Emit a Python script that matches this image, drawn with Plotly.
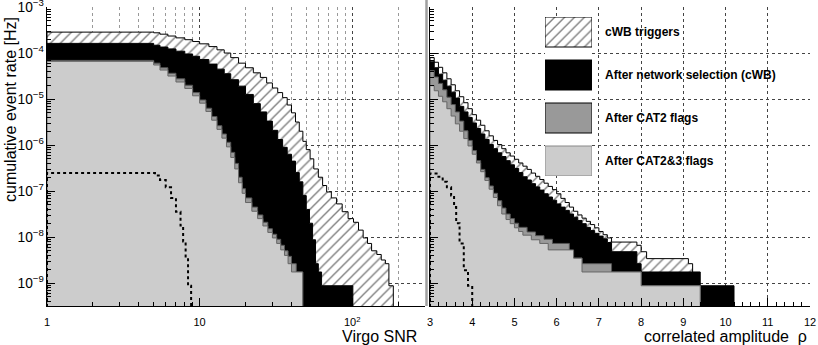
import math

import plotly.graph_objects as go

# ---- data: cumulative event rate, stored as log10(rate [Hz]) per histogram bin ----
# left panel: Virgo SNR (bin edges + one value per bin)
cwb_snr_edges = [1, 5, 5.5, 6.2, 7, 8, 9, 10, 11.5, 13, 14.5, 16, 18, 20, 22.5, 25, 27.5,
                 30, 32.5, 35, 37.5, 40, 42.5, 45, 47.5, 50, 53, 56, 60, 64, 68, 73, 79, 86,
                 94, 102, 110, 118, 126, 134, 145, 155, 165, 174, 186]
cwb_snr_log = [-3.545, -3.56, -3.59, -3.63, -3.67, -3.71, -3.75, -3.80, -3.86, -3.93, -4.00,
               -4.10, -4.22, -4.32, -4.43, -4.53, -4.65, -4.76, -4.86, -4.97, -5.13, -5.30,
               -5.50, -5.70, -5.92, -6.10, -6.30, -6.52, -6.70, -6.88, -7.02, -7.15, -7.28,
               -7.45, -7.60, -7.68, -7.85, -8.02, -8.14, -8.30, -8.38, -8.50, -8.58, -9.06]

net_snr_edges = [1, 5, 5.5, 6.2, 7, 8, 9, 10, 11.5, 13, 14.5, 16, 18, 20, 22.5, 25, 27.5,
                 30, 32.5, 35, 37.5, 40, 42.5, 45, 47.5, 50, 52.5, 55, 57.5, 60, 63, 101]
net_snr_log = [-3.79, -3.83, -3.87, -3.91, -3.96, -4.02, -4.07, -4.14, -4.24, -4.35, -4.45,
               -4.58, -4.72, -4.90, -5.10, -5.28, -5.48, -5.68, -5.88, -6.05, -6.20, -6.35,
               -6.60, -6.80, -7.10, -7.40, -7.70, -8.06, -8.58, -8.76, -9.06]

cat2_snr_edges = [1, 5, 5.5, 6.2, 7, 8, 9, 10, 11, 12, 13, 14, 15, 16, 17, 18, 19, 20, 22,
                  24, 26, 28, 30, 32, 34, 36, 38, 40, 43, 47.4]
cat2_snr_log = [-4.16, -4.22, -4.32, -4.44, -4.56, -4.70, -4.86, -5.02, -5.20, -5.38, -5.58,
                -5.76, -5.94, -6.16, -6.40, -6.70, -6.95, -7.15, -7.35, -7.52, -7.68, -7.82,
                -7.94, -8.05, -8.18, -8.30, -8.42, -8.58, -8.76]

cat23_snr_edges = cat2_snr_edges
cat23_snr_log = [-4.18, -4.26, -4.37, -4.50, -4.63, -4.77, -4.93, -5.09, -5.27, -5.46, -5.66,
                 -5.85, -6.04, -6.27, -6.52, -6.82, -7.05, -7.25, -7.44, -7.60, -7.76, -7.90,
                 -8.02, -8.14, -8.28, -8.40, -8.58, -8.76, -8.76]

dot_snr_edges = [1, 5.1, 5.5, 6.0, 6.5, 7.0, 7.5, 7.8, 8.1, 8.4, 8.8]
dot_snr_log = [-6.61, -6.66, -6.76, -6.92, -7.15, -7.45, -7.75, -8.10, -8.45, -9.06]

# right panel: correlated amplitude rho
cwb_rho_edges = [3.0, 3.1, 3.2, 3.3, 3.4, 3.5, 3.6, 3.7, 3.8, 3.9, 4.0, 4.1, 4.2, 4.3, 4.4,
                 4.5, 4.6, 4.7, 4.8, 4.9, 5.0, 5.1, 5.2, 5.3, 5.4, 5.5, 5.6, 5.7, 5.8, 5.9,
                 6.0, 6.1, 6.2, 6.3, 6.4, 6.5, 6.6, 6.7, 6.8, 6.9, 7.0, 7.1, 7.2, 7.3, 7.9,
                 8.0, 8.13, 9.12, 9.22]
cwb_rho_log = [-4.10, -4.20, -4.31, -4.43, -4.56, -4.69, -4.82, -4.95, -5.08, -5.21,
               -5.34, -5.46, -5.57, -5.69, -5.80, -5.90, -5.99, -6.08, -6.17, -6.24,
               -6.31, -6.39, -6.46, -6.53, -6.61, -6.68, -6.75, -6.83, -6.90, -6.97,
               -7.06, -7.16, -7.25, -7.35, -7.44, -7.52, -7.59, -7.66, -7.73, -7.80,
               -7.88, -7.95, -8.02, -8.11, -8.18, -8.32, -8.47, -8.58]

net_rho_edges = [3.0, 3.1, 3.2, 3.3, 3.4, 3.5, 3.6, 3.7, 3.8, 3.9, 4.0, 4.1, 4.2, 4.3, 4.4,
                 4.5, 4.6, 4.7, 4.8, 4.9, 5.0, 5.1, 5.2, 5.3, 5.4, 5.5, 5.6, 5.7, 5.8, 5.9,
                 6.0, 6.1, 6.2, 6.3, 6.4, 6.5, 6.6, 6.7, 6.8, 6.9, 7.0, 7.1, 7.2, 7.3, 7.9,
                 8.0, 9.4, 10.2]
net_rho_log = [-4.19, -4.32, -4.46, -4.59, -4.72, -4.85, -4.98, -5.16, -5.28, -5.40,
               -5.52, -5.64, -5.76, -5.88, -5.99, -6.08, -6.17, -6.25, -6.34, -6.43,
               -6.51, -6.60, -6.69, -6.76, -6.84, -6.91, -6.98, -7.06, -7.13, -7.20,
               -7.28, -7.35, -7.42, -7.50, -7.57, -7.64, -7.71, -7.79, -7.86, -7.92,
               -7.98, -8.04, -8.12, -8.32, -8.58, -8.76, -9.06]

cat2_rho_edges = [3.0, 3.1, 3.2, 3.3, 3.4, 3.5, 3.6, 3.7, 3.8, 3.9, 4.0, 4.1, 4.2, 4.3, 4.4,
                  4.5, 4.6, 4.7, 4.8, 4.9, 5.0, 5.1, 5.3, 5.5, 5.7, 5.9, 6.3, 6.4, 6.6, 7.3,
                  8.0, 9.4]
cat2_rho_log = [-4.38, -4.52, -4.66, -4.80, -4.96, -5.12, -5.28, -5.48, -5.69, -5.90,
                -6.12, -6.34, -6.53, -6.71, -6.89, -7.05, -7.21, -7.37, -7.50, -7.60,
                -7.70, -7.79, -7.89, -7.97, -8.05, -8.14, -8.30, -8.46, -8.58, -8.76, -9.06]

cat23_rho_edges = [3.0, 3.1, 3.2, 3.3, 3.4, 3.5, 3.6, 3.7, 3.8, 3.9, 4.0, 4.1, 4.2, 4.3, 4.4,
                   4.5, 4.6, 4.7, 4.8, 4.9, 5.0, 5.1, 5.2, 5.4, 5.6, 5.8, 6.4, 6.6, 8.0, 9.4]
cat23_rho_log = [-4.71, -4.82, -4.94, -5.06, -5.21, -5.37, -5.54, -5.70, -5.86, -6.02,
                 -6.20, -6.39, -6.58, -6.77, -6.96, -7.14, -7.32, -7.50, -7.62, -7.71,
                 -7.80, -7.88, -7.96, -8.06, -8.14, -8.28, -8.46, -8.76, -9.06]

dot_rho_edges = [3.0, 3.2, 3.3, 3.4, 3.5, 3.57, 3.62, 3.7, 3.8, 3.9, 4.0]
dot_rho_log = [-6.62, -6.69, -6.80, -6.92, -7.10, -7.35, -7.70, -8.14, -8.72, -9.06]

labels = ["cWB triggers", "After network selection (cWB)", "After CAT2 flags",
          "After CAT2&3 flags"]

FLOOR = 1e-12  # below the visible range, closes the filled steps
FONT = "Arial, Liberation Sans, sans-serif"
HATCH = dict(shape="/", fgcolor="black", bgcolor="white", size=7, solidity=0.2)

# fill, outline, hatched?
styles = [
    dict(fill="white", line="black", hatch=True),
    dict(fill="black", line="black", hatch=False),
    dict(fill="#999999", line="#555555", hatch=False),
    dict(fill="#cccccc", line="#666666", hatch=False),
]


def steps(edges, logs):
    """histogram outline as closed polygon: bottom -> step tops -> bottom."""
    xs, ys = [edges[0]], [FLOOR]
    for i, v in enumerate(logs):
        r = 10 ** v
        xs += [edges[i], edges[i + 1]]
        ys += [r, r]
    xs.append(edges[-1])
    ys.append(FLOOR)
    return xs, ys


def hist_trace(edges, logs, st, xa, ya):
    xs, ys = steps(edges, logs)
    kw = dict(x=xs, y=ys, mode="lines", fill="toself", fillcolor=st["fill"],
              line=dict(color=st["line"], width=1), xaxis=xa, yaxis=ya,
              hoverinfo="skip", showlegend=False)
    if st["hatch"]:
        kw["fillpattern"] = HATCH
    return go.Scatter(**kw)


fig = go.Figure()

panels = [
    ("x", "y", [(cwb_snr_edges, cwb_snr_log), (net_snr_edges, net_snr_log),
                (cat2_snr_edges, cat2_snr_log), (cat23_snr_edges, cat23_snr_log)],
     (dot_snr_edges, dot_snr_log)),
    ("x2", "y2", [(cwb_rho_edges, cwb_rho_log), (net_rho_edges, net_rho_log),
                  (cat2_rho_edges, cat2_rho_log), (cat23_rho_edges, cat23_rho_log)],
     (dot_rho_edges, dot_rho_log)),
]
for xa, ya, series, dotted in panels:
    for (edges, logs), st in zip(series, styles):
        fig.add_trace(hist_trace(edges, logs, st, xa, ya))
    dx, dy = steps(*dotted)
    fig.add_trace(go.Scatter(x=dx, y=dy, mode="lines", xaxis=xa, yaxis=ya,
                             line=dict(color="black", width=2, dash="dot"),
                             hoverinfo="skip", showlegend=False))

# ---- hand-made ROOT-like legend (big boxes) in its own invisible axes ----
BOX_H, BOX_GAP = 30, 13
for i, st in enumerate(styles):
    top = i * (BOX_H + BOX_GAP)
    kw = dict(x=[0, 1, 1, 0, 0], y=[top, top, top + BOX_H, top + BOX_H, top],
              mode="lines", fill="toself", fillcolor=st["fill"],
              line=dict(color="black" if i < 3 else "#888888", width=1),
              xaxis="x3", yaxis="y3", hoverinfo="skip", showlegend=False)
    if st["hatch"]:
        kw["fillpattern"] = HATCH
    fig.add_trace(go.Scatter(**kw))

# figure geometry (pixels)
W, H = 818, 345
ML, MR, MT, MB = 47, 8, 7, 39
PW, PH = W - ML - MR, H - MT - MB


def px(xp):
    return (xp - ML) / PW


def py(yp):
    return (H - MB - yp) / PH


axis_common = dict(showline=True, linecolor="black", linewidth=1, ticks="inside",
                   ticklen=8, tickcolor="black", tickwidth=1, showgrid=True,
                   gridcolor="#444444", griddash="dot", gridwidth=1, zeroline=False,
                   layer="above traces", tickfont=dict(size=11), automargin=False,
                   ticklabeloverflow="allow")

fig.update_layout(
    width=W, height=H,
    margin=dict(l=ML, r=MR, t=MT, b=MB, autoexpand=False),
    paper_bgcolor="white", plot_bgcolor="white",
    showlegend=False,
    font=dict(family=FONT, size=11, color="black"),
    xaxis=dict(axis_common, type="log", domain=[0, px(425)], range=[0, math.log10(300)],
               dtick=1, labelalias={"100": "10<sup>2</sup>"}, ticklabelstandoff=6,
               minor=dict(ticks="inside", ticklen=4, tickcolor="black", dtick="D1",
                          showgrid=True, gridcolor="#999999", griddash="dot"),
               anchor="y"),
    yaxis=dict(axis_common, type="log", domain=[0, 1], range=[-9.5, -2.999], dtick=1,
               exponentformat="power", showexponent="all",
               minor=dict(ticks="inside", ticklen=4, tickcolor="black", dtick="D1",
                          showgrid=False),
               anchor="x"),
    xaxis2=dict(axis_common, domain=[px(430), 1], range=[3, 12.0001], dtick=1,
                ticklabelstandoff=6,
                minor=dict(ticks="inside", ticklen=4, tickcolor="black", dtick=0.2,
                           showgrid=False),
                anchor="y2"),
    yaxis2=dict(axis_common, type="log", domain=[0, 1], range=[-9.5, -2.999], dtick=1,
                showticklabels=False,
                minor=dict(ticks="inside", ticklen=4, tickcolor="black", dtick="D1",
                           showgrid=False),
                anchor="x2"),
    xaxis3=dict(domain=[px(545), px(592)], range=[0, 1], visible=False, anchor="y3"),
    yaxis3=dict(domain=[py(176), py(17)], range=[4 * BOX_H + 3 * BOX_GAP, 0],
                visible=False, anchor="x3"),
)

# legend labels
for i, lab in enumerate(labels):
    fig.add_annotation(x=px(603), y=py(17 + i * (BOX_H + BOX_GAP) + BOX_H / 2),
                       xref="paper", yref="paper", text=f"<b>{lab}</b>",
                       showarrow=False, xanchor="left", yanchor="middle",
                       font=dict(family=FONT, size=12, color="black"))

# axis titles (ROOT style: right / top aligned)
fig.add_annotation(x=px(10), y=py(110), xref="paper", yref="paper",
                   text="cumulative event rate [Hz]", textangle=-90, showarrow=False,
                   xanchor="center", yanchor="middle", font=dict(family=FONT, size=16))
fig.add_annotation(x=px(419), y=py(336), xref="paper", yref="paper", text="Virgo SNR",
                   showarrow=False, xanchor="right", yanchor="middle",
                   font=dict(family=FONT, size=16))
fig.add_annotation(x=px(809), y=py(336), xref="paper", yref="paper",
                   text="correlated amplitude  ρ", showarrow=False, xanchor="right",
                   yanchor="middle", font=dict(family=FONT, size=16))

# grey pad border between the two panels
fig.add_shape(type="line", xref="paper", yref="paper", x0=px(426.5), x1=px(426.5),
              y0=0, y1=py(0), line=dict(color="#a0a0a0", width=2.5))

# the page's default 8px body margin would shift the whole figure
fig.write_html("out.html", config={"displayModeBar": False},
               post_script="document.body.style.margin='0';")
